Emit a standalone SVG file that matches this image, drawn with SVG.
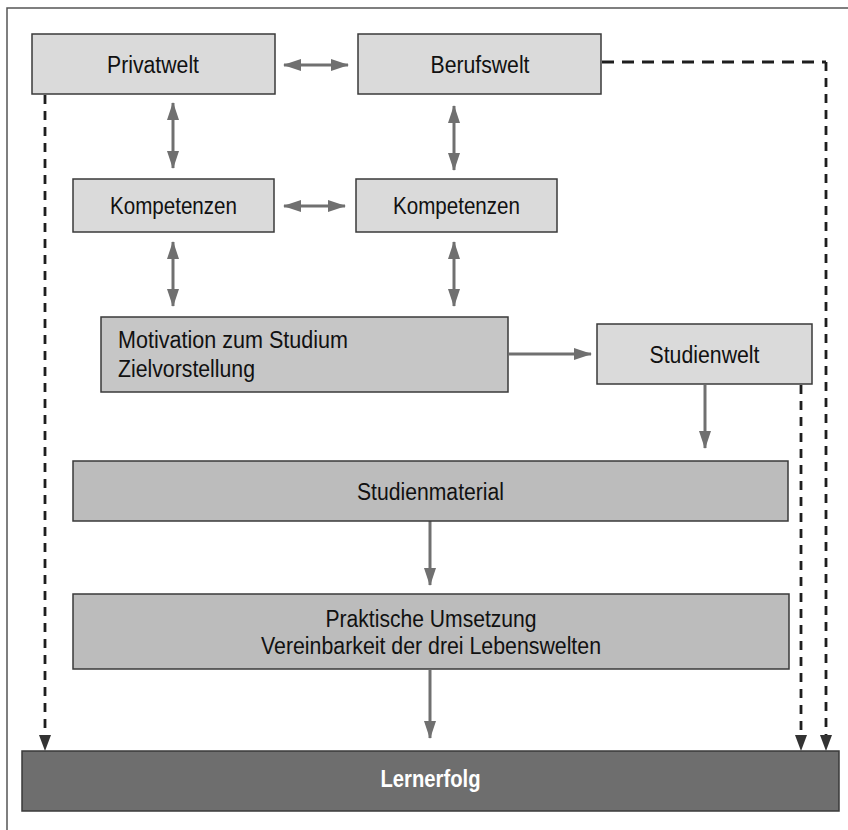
<svg xmlns="http://www.w3.org/2000/svg" width="848" height="830" viewBox="0 0 848 830">
<style>
  text { font-family: "Liberation Sans", Arial, sans-serif; font-size: 23.5px; fill: #111; }
  .light { fill: #dadada; stroke: #3a3a3a; stroke-width: 1.5; }
  .mid { fill: #c6c6c6; stroke: #3a3a3a; stroke-width: 1.5; }
  .dark { fill: #bcbcbc; stroke: #3a3a3a; stroke-width: 1.5; }
  .final { fill: #6e6e6e; stroke: #3a3a3a; stroke-width: 1.5; }
  .arrow { stroke: #707070; stroke-width: 3; fill: none; }
  .dash { stroke: #1e1e1e; stroke-width: 2.8; fill: none; stroke-dasharray: 9 7; }
  .dashh { stroke: #1e1e1e; stroke-width: 2.8; fill: none; stroke-dasharray: 12 8; }
</style>
<defs>
  <marker id="ah" viewBox="0 0 18 12" refX="17" refY="6" markerWidth="18" markerHeight="12" markerUnits="userSpaceOnUse" orient="auto-start-reverse">
    <path d="M0,0 L18,6 L0,12 Z" fill="#707070"/>
  </marker>
  <marker id="dh" viewBox="0 0 16 12" refX="15" refY="6" markerWidth="16" markerHeight="12" markerUnits="userSpaceOnUse" orient="auto">
    <path d="M0,0 L16,6 L0,12 Z" fill="#333333"/>
  </marker>
</defs>
<rect width="848" height="830" fill="#ffffff"/>
<path d="M7,830 V8 H848" fill="none" stroke="#555" stroke-width="1.5"/>

<g id="connectors">
  <line class="arrow" x1="284" y1="65" x2="348" y2="65" marker-start="url(#ah)" marker-end="url(#ah)"/>
  <line class="arrow" x1="173" y1="103" x2="173" y2="168" marker-start="url(#ah)" marker-end="url(#ah)"/>
  <line class="arrow" x1="454" y1="106" x2="454" y2="170" marker-start="url(#ah)" marker-end="url(#ah)"/>
  <line class="arrow" x1="284" y1="206" x2="345" y2="206" marker-start="url(#ah)" marker-end="url(#ah)"/>
  <line class="arrow" x1="173" y1="242" x2="173" y2="306" marker-start="url(#ah)" marker-end="url(#ah)"/>
  <line class="arrow" x1="454" y1="242" x2="454" y2="306" marker-start="url(#ah)" marker-end="url(#ah)"/>
  <line class="arrow" x1="509" y1="354" x2="591" y2="354" marker-end="url(#ah)"/>
  <line class="arrow" x1="705" y1="385" x2="705" y2="448" marker-end="url(#ah)"/>
  <line class="arrow" x1="430" y1="521" x2="430" y2="585" marker-end="url(#ah)"/>
  <line class="arrow" x1="430" y1="670" x2="430" y2="738" marker-end="url(#ah)"/>
  <line class="dash" x1="45" y1="95" x2="45" y2="750" marker-end="url(#dh)"/>
  <line class="dash" x1="801" y1="385" x2="801" y2="750" marker-end="url(#dh)"/>
  <path class="dashh" d="M602,62 H826"/>
  <line class="dash" x1="826" y1="62" x2="826" y2="750" marker-end="url(#dh)"/>
</g>

<g id="privatwelt">
  <rect class="light" x="32" y="34" width="243" height="60"/>
  <text x="153" y="72.5" text-anchor="middle" textLength="92" lengthAdjust="spacingAndGlyphs">Privatwelt</text>
</g>
<g id="berufswelt">
  <rect class="light" x="358" y="34" width="243" height="60"/>
  <text x="480" y="72.5" text-anchor="middle" textLength="99" lengthAdjust="spacingAndGlyphs">Berufswelt</text>
</g>
<g id="kompetenzen-privat">
  <rect class="light" x="73" y="179" width="201" height="53"/>
  <text x="173.5" y="214" text-anchor="middle" textLength="127" lengthAdjust="spacingAndGlyphs">Kompetenzen</text>
</g>
<g id="kompetenzen-beruf">
  <rect class="light" x="356" y="179" width="201" height="53"/>
  <text x="456.5" y="214" text-anchor="middle" textLength="127" lengthAdjust="spacingAndGlyphs">Kompetenzen</text>
</g>
<g id="motivation">
  <rect class="mid" x="101" y="317" width="407" height="75"/>
  <text x="118" y="347.5" textLength="230" lengthAdjust="spacingAndGlyphs">Motivation zum Studium</text>
  <text x="118" y="376.5" textLength="137" lengthAdjust="spacingAndGlyphs">Zielvorstellung</text>
</g>
<g id="studienwelt">
  <rect class="light" x="597" y="324" width="215" height="60"/>
  <text x="704.5" y="362.5" text-anchor="middle" textLength="110" lengthAdjust="spacingAndGlyphs">Studienwelt</text>
</g>
<g id="studienmaterial">
  <rect class="dark" x="73" y="461" width="715" height="60"/>
  <text x="430.5" y="500" text-anchor="middle" textLength="147" lengthAdjust="spacingAndGlyphs">Studienmaterial</text>
</g>
<g id="praktische-umsetzung">
  <rect class="dark" x="73" y="594" width="716" height="75"/>
  <text x="431" y="626.5" text-anchor="middle" textLength="211" lengthAdjust="spacingAndGlyphs">Praktische Umsetzung</text>
  <text x="431" y="653.5" text-anchor="middle" textLength="340" lengthAdjust="spacingAndGlyphs">Vereinbarkeit der drei Lebenswelten</text>
</g>
<g id="lernerfolg">
  <rect class="final" x="22" y="751" width="817" height="60"/>
  <text x="430.5" y="787" text-anchor="middle" font-weight="bold" textLength="100" lengthAdjust="spacingAndGlyphs" style="fill:#ffffff">Lernerfolg</text>
</g>
</svg>
